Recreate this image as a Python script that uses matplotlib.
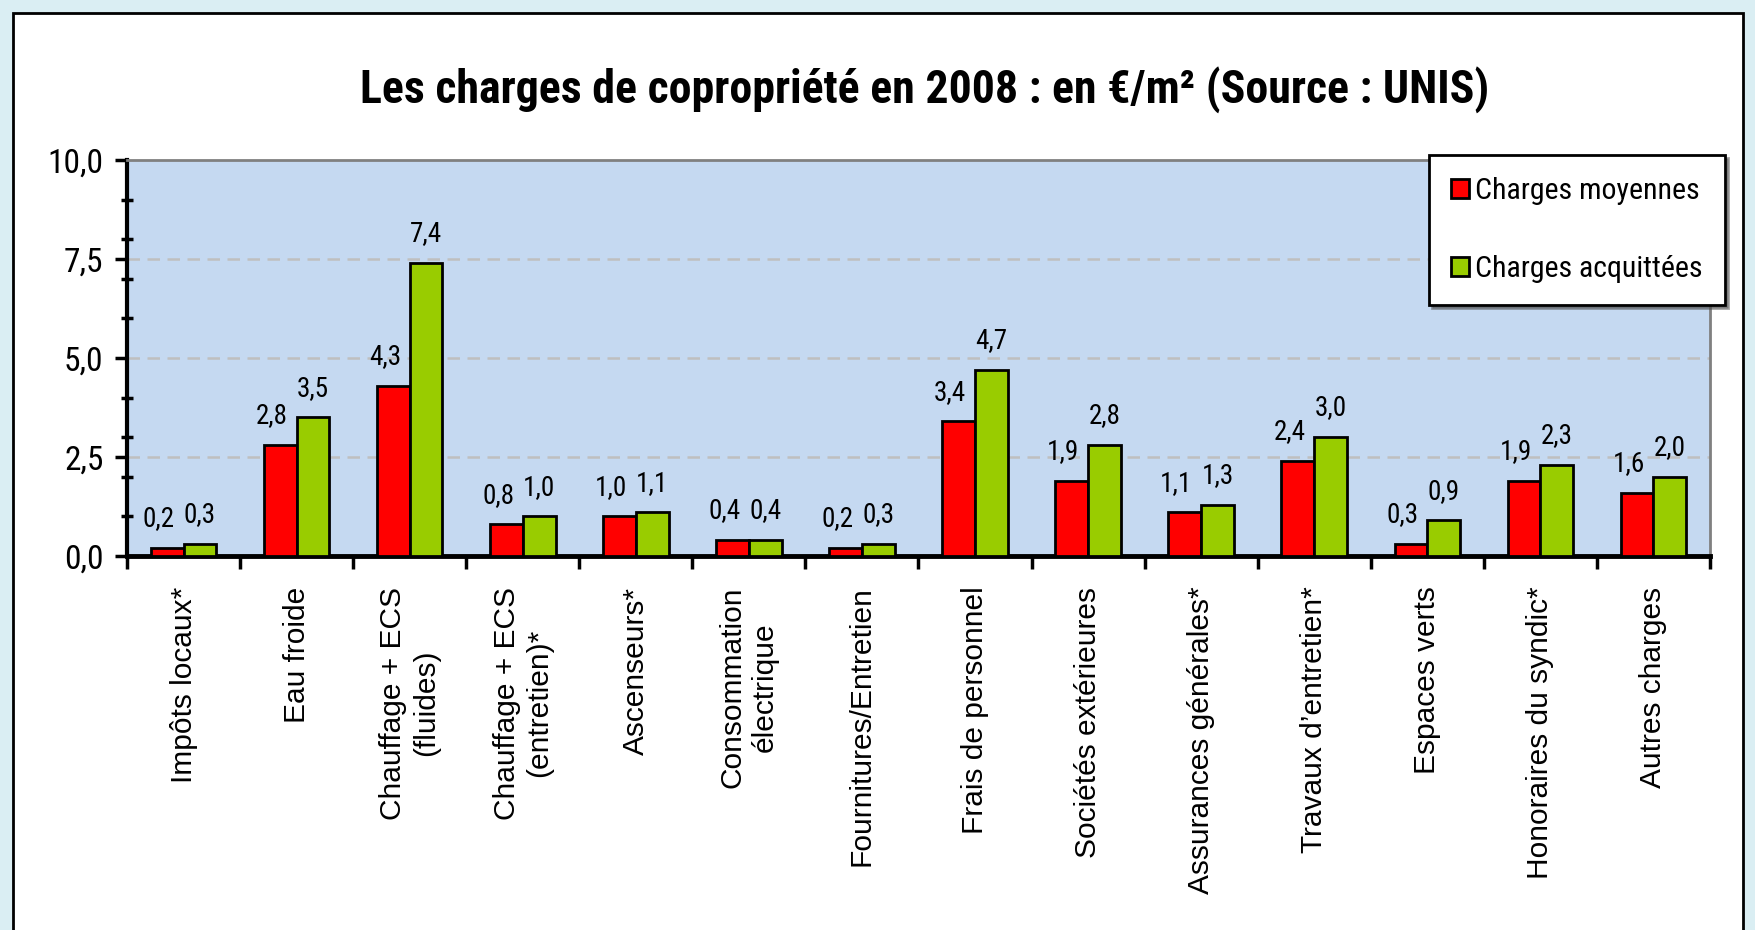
import matplotlib
matplotlib.use("Agg")
import matplotlib.pyplot as plt
import numpy as np
from matplotlib.patches import Rectangle
from matplotlib.ticker import FixedLocator, MultipleLocator, FuncFormatter

categories = [
    "Impôts locaux*", "Eau froide", "Chauffage + ECS\n(fluides)",
    "Chauffage + ECS\n(entretien)*", "Ascenseurs*", "Consommation\nélectrique",
    "Fournitures/Entretien", "Frais de personnel", "Sociétés extérieures",
    "Assurances générales*", "Travaux d’entretien*", "Espaces verts",
    "Honoraires du syndic*", "Autres charges",
]
moyennes = [0.2, 2.8, 4.3, 0.8, 1.0, 0.4, 0.2, 3.4, 1.9, 1.1, 2.4, 0.3, 1.9, 1.6]
acquittees = [0.3, 3.5, 7.4, 1.0, 1.1, 0.4, 0.3, 4.7, 2.8, 1.3, 3.0, 0.9, 2.3, 2.0]
series_names = ["Charges moyennes", "Charges acquittées"]

narrow = ["Roboto Condensed", "DejaVu Sans"]
regular = ["Liberation Sans", "DejaVu Sans"]

fig = plt.figure(figsize=(17.56, 9.30), dpi=100, facecolor="#DAEEF3")
# white panel with black frame
fig.patches.append(Rectangle((13 / 1756, -0.05), (1743 - 13) / 1756, 1.05 - 13 / 930,
                             transform=fig.transFigure, facecolor="white",
                             edgecolor="black", linewidth=2, zorder=-10))

ax = fig.add_axes([127 / 1756, 1 - 556 / 930, (1710 - 127) / 1756, (556 - 160) / 930])
ax.set_facecolor("#C5D9F1")

x = np.arange(len(categories))
w = 0.29
b1 = ax.bar(x - w / 2, moyennes, w, color="#FF0000", edgecolor="black", linewidth=2,
            label=series_names[0], zorder=3)
b2 = ax.bar(x + w / 2, acquittees, w, color="#99CC00", edgecolor="black", linewidth=2,
            label=series_names[1], zorder=3)

fmt = lambda v: f"{v:.1f}".replace(".", ",")
for bars, vals, dx in [(b1, moyennes, -6), (b2, acquittees, 0)]:
    for r, v in zip(bars, vals):
        ax.annotate(fmt(v), (r.get_x() + r.get_width() / 2, r.get_height()),
                    xytext=(dx, 21), textcoords="offset points", ha="center",
                    va="center", fontsize=19.5, family=narrow)

ax.set_xlim(-0.5, len(categories) - 0.5)
ax.set_ylim(0, 10)
ax.yaxis.set_major_locator(FixedLocator([0, 2.5, 5, 7.5, 10]))
ax.yaxis.set_minor_locator(MultipleLocator(1))
ax.yaxis.set_major_formatter(FuncFormatter(lambda v, p: fmt(v)))
ax.tick_params(axis="y", which="major", direction="out", length=9, width=2.5,
               labelsize=24, pad=8)
ax.tick_params(axis="y", which="minor", direction="inout", length=8, width=2.5)
for t in ax.get_yticklabels():
    t.set_family(narrow)

ax.set_xticks(x)
ax.set_xticklabels(categories, rotation=90, fontsize=21.5, family=regular,
                   va="top", ha="center", multialignment="center")
ax.xaxis.set_minor_locator(FixedLocator(np.arange(-0.5, len(categories), 1)))
ax.tick_params(axis="x", which="major", length=0, pad=22)
ax.tick_params(axis="x", which="minor", direction="out", length=9, width=2.5)

for y in [2.5, 5, 7.5]:
    ax.axhline(y, color="#BFBFBF", linestyle=(0, (5, 3)), linewidth=1.8, zorder=1)

ax.spines["left"].set_linewidth(3)
ax.spines["bottom"].set_linewidth(3.5)
ax.spines["top"].set_color("#808080")
ax.spines["right"].set_color("#808080")
ax.spines["top"].set_linewidth(2)
ax.spines["right"].set_linewidth(2)

fig.text(925 / 1756, 1 - 90 / 930, "Les charges de copropriété en 2008 : en €/m² (Source : UNIS)",
         ha="center", va="center", fontsize=33, fontweight="bold", family=narrow)

leg = ax.legend(loc="upper right", bbox_to_anchor=(1725 / 1756, 1 - 155 / 930),
                bbox_transform=fig.transFigure, prop={"family": narrow, "size": 21.5},
                frameon=True, fancybox=False, shadow=True, edgecolor="black",
                handlelength=0.6, handleheight=0.6, handletextpad=0.2,
                labelspacing=1.65, borderpad=0.75, borderaxespad=0)
leg.get_frame().set_linewidth(2)
leg.set_zorder(5)

fig.savefig("out.png", dpi=100, facecolor=fig.get_facecolor())
